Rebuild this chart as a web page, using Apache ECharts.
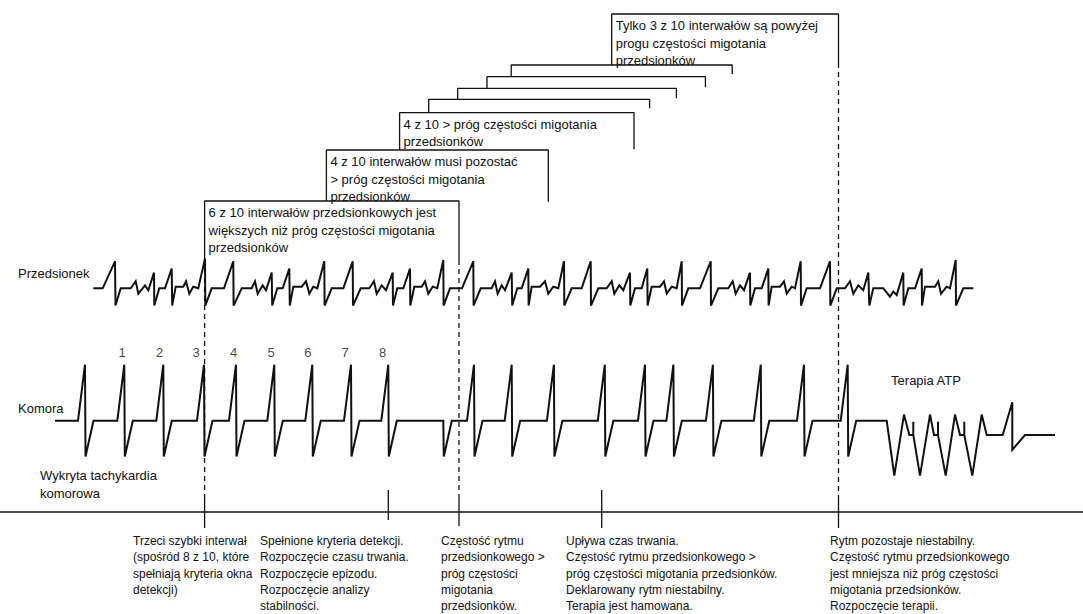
<!DOCTYPE html>
<html><head><meta charset="utf-8">
<script src="https://cdn.jsdelivr.net/npm/echarts/dist/echarts.min.js"></script>
<style>html,body{margin:0;padding:0;background:#fff}#c{width:1083px;height:614px}</style>
</head><body><div id="c"></div>
<script>
// ===== DATA =====
// Atrial electrogram: [time, amplitude] (amplitude in relative units, baseline 0)
const atrialTrace = [
[93.3,0],[102.7,0],[115,1],[115.5,-0.64],[120.7,0],[130.7,0],[135.7,0.26],[138.3,-0.2],[145,0.11],[148.3,-0.07],[154,0.58],[154.3,-0.64],[159.3,0],[165,0],[171.7,0.73],[172.2,-0.64],[175.7,0.06],[183.3,0.06],[186,0.26],[189.3,-0.2],[193.3,0.06],[198.3,0],[205,1.1],[205.3,-0.64],[211.7,0],[224,0],[233.3,1],[233.6,-0.64],[241.7,0],[251.7,0],[255,0.26],[257.7,-0.2],[262.7,0.11],[266,-0.07],[271.7,0.58],[272.2,-0.64],[277.3,0],[282.7,0],[289.3,0.73],[289.8,-0.64],[293.3,0.06],[301.7,0.06],[306,0.26],[309.3,-0.2],[313.3,0.06],[317.3,0],[324.3,1],[324.6,-0.64],[331.7,0],[343.3,0],[352.7,1],[353,-0.64],[360.7,0],[369.3,0],[374,0.26],[376.7,-0.2],[381.7,0.11],[386,-0.07],[392.7,0.58],[393,-0.64],[397.3,0],[403.3,0],[410,0.73],[410.3,-0.64],[414.3,0.06],[421.7,0.06],[425,0.26],[428.3,-0.2],[432.7,0.06],[437.3,0],[443.3,1.05],[443.6,-0.64],[450,0],[462,0],[473.3,1],[473.6,-0.64],[480.7,0],[491.7,0],[495,0.26],[497.7,-0.2],[501.7,0.11],[505,-0.07],[511.7,0.58],[512.2,-0.64],[517.3,0],[521.7,0],[528.3,0.73],[528.6,-0.64],[531.7,0.06],[540,0.06],[545,0.26],[548.3,-0.2],[553.3,0.06],[558.3,0],[564,1],[564.3,-0.64],[571.7,0],[581.7,0],[590.7,1],[591,-0.64],[598.3,0],[606.7,0],[611.7,0.26],[614.3,-0.2],[619.3,0.11],[623.3,-0.07],[630,0.58],[630.3,-0.64],[635,0],[641.7,0],[647.3,0.73],[647.6,-0.64],[651.7,0.06],[660,0.06],[664,0.26],[666.7,-0.2],[671.7,0.06],[676.7,0],[681.7,1],[682,-0.64],[688.3,0],[700,0],[710.7,1],[711,-0.64],[718.3,0],[728.3,0],[732.7,0.26],[735.7,-0.2],[740,0.11],[744,-0.07],[750,0.58],[750.3,-0.64],[755,0],[761.7,0],[768.3,0.73],[768.6,-0.64],[771.7,0.06],[780,0.06],[784,0.26],[786.7,-0.2],[791.7,0.06],[795,0],[800.7,1],[801,-0.64],[806.7,0],[820,0],[830,1],[830.3,-0.64],[836.7,0],[845,0],[850,0.26],[853.3,-0.2],[858.3,0.11],[863.3,-0.07],[868.3,0.58],[869.3,-0.64],[873.3,0],[883.3,0],[890,-0.31],[893.3,-0.12],[896.7,-0.25],[903.3,0.58],[903.6,-0.64],[908.3,0],[915,0],[921.7,0.73],[922,-0.64],[925,0.06],[935,0.06],[938.3,0.26],[941,-0.2],[946.7,0.06],[950,0],[955.7,1.05],[956,-0.64],[963.3,0],[973.3,0]
];
// Ventricular beats: peak times and R amplitudes
const ventStartTime = 55;
const ventPeaks   = [85,124.3,163.3,204,236,274.3,312.3,351,388.3,443.3,474,511.7,553.9,604.8,645,673.4,712.9,760.8,804,847.7];
const ventR       = [1,1,1,1,1,1,1,1,1,0,1,1,1,1,1,1,1,1,1,1];
const ventS       = -0.64;
const beatNumbers = ['1','2','3','4','5','6','7','8'];
const beatNumberTimes = [122.7,160,196.7,234,271.7,308.3,345.7,383];
// ATP therapy segment: [time, amplitude]
const atpTrace = [
[886.7,0],[894.3,-0.98],[904,0.11],[909.3,-0.255],[913.3,-0.255],[913.3,-0.02],[913.3,-0.255],[920,-0.98],[930,0.11],[934,-0.255],[938,-0.255],[938,-0.02],[938,-0.255],[945.7,-0.98],[955,0.11],[960,-0.255],[964.3,-0.255],[964.3,-0.02],[964.3,-0.255],[972.3,-0.98],[981.7,0.11],[986.7,-0.255],[1002.7,-0.255],[1012.3,0.33],[1012.3,-0.52],[1025,-0.255],[1055,-0.255]
];
// 10-interval windows (start/end times)
const windowStart = [204.6,326.4,399.6,428.7,457.7,487,511.2,611.7];
const windowEnd   = [459,548.3,634,649.6,676.4,705.4,732.2,838.5];
const windowText  = [
  '6 z 10 interwałów przedsionkowych jest\nwiększych niż próg częstości migotania\nprzedsionków',
  '4 z 10 interwałów musi pozostać\n> próg częstości migotania\nprzedsionków',
  '4 z 10 > próg częstości migotania\nprzedsionków',
  '','','','',
  'Tylko 3 z 10 interwałów są powyżej\nprogu częstości migotania\nprzedsionków'
];
// Timeline events
const eventTimes = [204.6,388.3,459,601.7,838.5];
const eventText = [
  'Trzeci szybki interwał\n(spośród 8 z 10, które\nspełniają kryteria okna\ndetekcji)',
  'Spełnione kryteria detekcji.\nRozpoczęcie czasu trwania.\nRozpoczęcie epizodu.\nRozpoczęcie analizy\nstabilności.',
  'Częstość rytmu\nprzedsionkowego >\npróg częstości\nmigotania\nprzedsionków.',
  'Upływa czas trwania.\nCzęstość rytmu przedsionkowego >\npróg częstości migotania przedsionków.\nDeklarowany rytm niestabilny.\nTerapia jest hamowana.',
  'Rytm pozostaje niestabilny.\nCzęstość rytmu przedsionkowego\njest mniejsza niż próg częstości\nmigotania przedsionków.\nRozpoczęcie terapii.'
];
const dashedEvents = [204.6,459,838.5];

// ===== LAYOUT =====
const A_BASE=288.3, A_SCALE=27, V_BASE=420.7, V_SCALE=56;
const bracketTop   = [201,150,112.7,99.3,88.3,76.7,65,14];
const bracketLegL  = [260,201,150,112.7,99.3,88.3,76.7,65];
const bracketLegR  = [260,201.7,149.3,108.3,98.3,87.3,74,63];
const dashedTop    = [260,260,63];
const DASH_BOTTOM  = 495;
const tickTop      = [495,490,495,490,495];
const tickBottom   = [528,520,526,528,528];
const AXIS_Y = 512;
const eventTextX = [133,260,441,566,830];
const EVENT_TEXT_Y = 533;
const NUMBER_Y = 353;
const FONT = '"Liberation Sans", Arial, Helvetica, sans-serif';
const INK = '#111';

// ===== BUILD =====
const atrialData = atrialTrace.map(p=>[p[0], A_BASE - p[1]*A_SCALE]);
const ventData = [[ventStartTime, V_BASE]];
ventPeaks.forEach((p,i)=>{
  ventData.push([p-7,V_BASE],[p,V_BASE-ventR[i]*V_SCALE],[p+0.5,V_BASE-ventS*V_SCALE],[p+8.5,V_BASE]);
});
atpTrace.forEach(p=>ventData.push([p[0], V_BASE - p[1]*V_SCALE]));

const series = [];
const lineBase = {type:'line',symbol:'none',silent:true,animation:false};
series.push(Object.assign({},lineBase,{data:atrialData,lineStyle:{color:INK,width:2,join:'miter'}}));
series.push(Object.assign({},lineBase,{data:ventData,lineStyle:{color:INK,width:2,join:'miter'}}));
windowStart.forEach((s,i)=>{
  const e=windowEnd[i];
  series.push(Object.assign({},lineBase,{data:[[s,bracketLegL[i]],[s,bracketTop[i]],[e,bracketTop[i]],[e,bracketLegR[i]]],lineStyle:{color:INK,width:1.3}}));
});
dashedEvents.forEach((t,i)=>{
  series.push(Object.assign({},lineBase,{data:[[t,dashedTop[i]],[t,DASH_BOTTOM]],lineStyle:{color:INK,width:1.3,type:[5,4]}}));
});
eventTimes.forEach((t,i)=>{
  series.push(Object.assign({},lineBase,{data:[[t,tickTop[i]],[t,tickBottom[i]]],lineStyle:{color:INK,width:1.3}}));
});
series.push(Object.assign({},lineBase,{data:[[0,AXIS_Y],[1083,AXIS_Y]],lineStyle:{color:INK,width:1.3}}));
// beat numbers
series.push({type:'scatter',symbolSize:1,silent:true,animation:false,
  itemStyle:{color:'rgba(0,0,0,0)'},
  data:beatNumbers.map((n,i)=>({value:[beatNumberTimes[i],NUMBER_Y],name:n})),
  label:{show:true,position:[0,0],align:'center',verticalAlign:'middle',formatter:'{b}',
         color:INK,fontSize:13,fontFamily:FONT,textBorderWidth:0}});

const graphic = [];
const txt = (x,y,text,size,lh,align)=>graphic.push({type:'text',x:x,y:y,silent:true,
  style:{text:text,font:size+'px '+FONT,fill:INK,lineHeight:lh,textAlign:align||'left',textVerticalAlign:'top'}});
windowText.forEach((t,i)=>{ if(t) txt(windowStart[i]+4, bracketTop[i]+3, t, 13, 17.5); });
eventText.forEach((t,i)=>txt(eventTextX[i], EVENT_TEXT_Y, t, 12, 16.3));
txt(18,265,'Przedsionek',13,16);
txt(18,400,'Komora',13,16);
txt(40,466,'Wykryta tachykardia\nkomorowa',13,18);
txt(926,372,'Terapia ATP',13,16,'center');

const chart = echarts.init(document.getElementById('c'),null,{renderer:'svg'});
chart.setOption({
  animation:false,
  grid:{left:0,right:0,top:0,bottom:0},
  xAxis:{type:'value',min:0,max:1083,show:false},
  yAxis:{type:'value',min:0,max:614,inverse:true,show:false},
  series:series,
  graphic:graphic
});
</script></body></html>
